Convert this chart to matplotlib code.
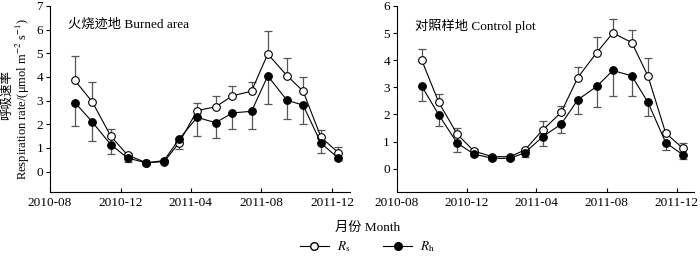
import numpy as np
import pandas as pd
import matplotlib as mpl
mpl.use('Agg')
import matplotlib.pyplot as plt
import matplotlib.dates as mdates
from matplotlib.lines import Line2D

plt.rcParams['font.family'] = ['Liberation Serif', 'Noto Sans CJK SC']
plt.rcParams['mathtext.fontset'] = 'stix'
plt.rcParams['font.size'] = 9.5

# sampling dates (monthly, mid-month)
dates = pd.to_datetime(["2010-09-13", "2010-10-13", "2010-11-14", "2010-12-13",
                        "2011-01-14", "2011-02-14", "2011-03-12", "2011-04-12",
                        "2011-05-14", "2011-06-12", "2011-07-15", "2011-08-12",
                        "2011-09-14", "2011-10-12", "2011-11-12", "2011-12-12"])

# burned area
rs_burned = [3.85, 2.95, 1.50, 0.70, 0.38, 0.42, 1.22, 2.58, 2.74, 3.20, 3.40, 4.97, 4.06, 3.40, 1.45, 0.80]
rs_burned_err = [1.04, 0.85, 0.29, 0.10, 0.04, 0.03, 0.05, 0.34, 0.45, 0.42, 0.40, 0.99, 0.76, 0.61, 0.32, 0.23]
rh_burned = [2.92, 2.10, 1.14, 0.58, 0.37, 0.47, 1.38, 2.29, 2.07, 2.48, 2.55, 4.04, 3.02, 2.81, 1.20, 0.57]
rh_burned_err = [1.01, 0.81, 0.39, 0.18, 0.04, 0.05, 0.43, 0.79, 0.64, 0.69, 0.76, 1.20, 0.78, 0.78, 0.40, 0.07]

# control plot
rs_control = [4.01, 2.44, 1.27, 0.65, 0.44, 0.44, 0.69, 1.43, 2.07, 3.36, 4.28, 5.00, 4.65, 3.42, 1.31, 0.75]
rs_control_err = [0.41, 0.32, 0.24, 0.07, 0.04, 0.04, 0.06, 0.33, 0.24, 0.38, 0.57, 0.52, 0.47, 0.65, 0.09, 0.21]
rh_control = [3.05, 1.98, 0.94, 0.54, 0.38, 0.38, 0.59, 1.18, 1.64, 2.54, 3.03, 3.62, 3.42, 2.45, 0.96, 0.51]
rh_control_err = [0.55, 0.40, 0.31, 0.09, 0.06, 0.06, 0.17, 0.34, 0.31, 0.52, 0.76, 0.96, 0.76, 0.51, 0.27, 0.16]

xticks = pd.to_datetime(["2010-08-01", "2010-12-01", "2011-04-01", "2011-08-01", "2011-12-01"])

fig = plt.figure(figsize=(7, 2.57), dpi=100)
ax1 = fig.add_axes([0.0714, 0.251, 0.4286, 0.726])
ax2 = fig.add_axes([0.567, 0.251, 0.425, 0.726])

def panel(ax, rs, rs_err, rh, rh_err, ymax, title, ty):
    z = np.zeros(len(rs))
    ax.errorbar(dates, rs, yerr=[z, rs_err], fmt='none', ecolor='#555555',
                elinewidth=0.9, capsize=3, capthick=0.9, zorder=1)
    ax.errorbar(dates, rh, yerr=[rh_err, z], fmt='none', ecolor='#555555',
                elinewidth=0.9, capsize=3, capthick=0.9, zorder=1)
    ax.plot(dates, rs, '-o', color='black', mfc='white', mec='black', ms=5.5,
            lw=0.8, mew=0.8, zorder=3)
    ax.plot(dates, rh, '-o', color='black', mfc='black', mec='black', ms=5.5,
            lw=0.8, mew=0.8, zorder=4)
    ax.set_xlim(pd.Timestamp("2010-08-01"), pd.Timestamp("2012-01-01"))
    ax.set_ylim(-0.88, ymax)
    ax.set_yticks(range(0, ymax + 1))
    ax.set_xticks(xticks)
    ax.xaxis.set_major_formatter(mdates.DateFormatter('%Y-%m'))
    ax.spines['top'].set_visible(False)
    ax.spines['right'].set_visible(False)
    ax.spines['left'].set_bounds(-0.88, ymax)
    ax.tick_params(axis='y', direction='out', length=3, width=0.8, pad=2)
    ax.tick_params(axis='x', direction='in', length=3, width=0.8, pad=3)
    for s in ['left', 'bottom']:
        ax.spines[s].set_linewidth(0.8)
    ax.text(0.06, ty, title, transform=ax.get_yaxis_transform(), va='center', ha='left')

panel(ax1, rs_burned, rs_burned_err, rh_burned, rh_burned_err, 7, "火烧迹地 Burned area", 6.2)
panel(ax2, rs_control, rs_control_err, rh_control, rh_control_err, 6, "对照样地 Control plot", 5.27)

ax1.set_ylabel("Respiration rate/(μmol m$^{-2}$ s$^{-1}$)", fontsize=9)
ax1.yaxis.set_label_coords(-0.06, 0.5)
fig.text(0.010, 0.63, "呼吸速率", rotation=90, ha='center', va='center', fontsize=9)

fig.text(0.525, 0.113, "月份 Month", ha='center', va='center')

handles = [Line2D([], [], color='black', marker='o', mfc='white', mec='black', ms=5.5, lw=0.8),
           Line2D([], [], color='black', marker='o', mfc='black', mec='black', ms=5.5, lw=0.8)]
fig.legend(handles, [r"$R_\mathrm{s}$", r"$R_\mathrm{h}$"], loc='center', bbox_to_anchor=(0.525, 0.04),
           ncol=2, frameon=False, handlelength=2.2, columnspacing=2.5, handletextpad=0.6,
           borderaxespad=0, borderpad=0)

fig.savefig("out.png", dpi=100)
